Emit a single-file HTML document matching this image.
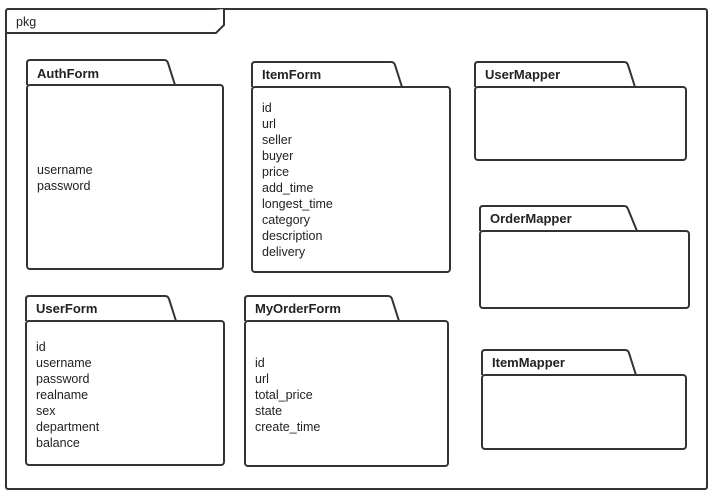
<!DOCTYPE html>
<html><head><meta charset="utf-8"><style>
html,body{margin:0;padding:0;background:#fff;}
svg{display:block;}
text{font-family:"Liberation Sans",sans-serif;font-size:12.5px;fill:#222;}
.t{font-weight:bold;font-size:13px;}
path,rect{fill:#fff;stroke:#333;stroke-width:2;}
</style></head><body>
<svg width="716" height="503" viewBox="0 0 716 503">
<rect x="6" y="9" width="701" height="480" rx="2"/>
<path d="M6 33 H216 L224 25 V9" fill="none"/>
<text x="16" y="26">pkg</text>

<!-- AuthForm -->
<path d="M27 85 V63 Q27 60 30 60 H164 Q167 60 168 63 L175 85"/>
<rect x="27" y="85" width="196" height="184" rx="3"/>
<text class="t" x="37" y="78">AuthForm</text>
<text x="37" y="174">username</text><text x="37" y="190">password</text>

<!-- ItemForm -->
<path d="M252 87 V65 Q252 62 255 62 H391 Q394 62 395 65 L402 87"/>
<rect x="252" y="87" width="198" height="185" rx="3"/>
<text class="t" x="262" y="79">ItemForm</text>
<text x="262" y="112">id</text><text x="262" y="128">url</text><text x="262" y="144">seller</text><text x="262" y="160">buyer</text><text x="262" y="176">price</text><text x="262" y="192">add_time</text><text x="262" y="208">longest_time</text><text x="262" y="224">category</text><text x="262" y="240">description</text><text x="262" y="256">delivery</text>

<!-- UserMapper -->
<path d="M475 87 V65 Q475 62 478 62 H624 Q627 62 628 65 L635 87"/>
<rect x="475" y="87" width="211" height="73" rx="3"/>
<text class="t" x="485" y="79">UserMapper</text>

<!-- OrderMapper -->
<path d="M480 231 V209 Q480 206 483 206 H624 Q627 206 628 209 L637 231"/>
<rect x="480" y="231" width="209" height="77" rx="3"/>
<text class="t" x="490" y="223">OrderMapper</text>

<!-- ItemMapper -->
<path d="M482 375 V353 Q482 350 485 350 H625 Q628 350 629 353 L636 375"/>
<rect x="482" y="375" width="204" height="74" rx="3"/>
<text class="t" x="492" y="367">ItemMapper</text>

<!-- UserForm -->
<path d="M26 321 V299 Q26 296 29 296 H165 Q168 296 169 299 L176 321"/>
<rect x="26" y="321" width="198" height="144" rx="3"/>
<text class="t" x="36" y="313">UserForm</text>
<text x="36" y="351">id</text><text x="36" y="367">username</text><text x="36" y="383">password</text><text x="36" y="399">realname</text><text x="36" y="415">sex</text><text x="36" y="431">department</text><text x="36" y="447">balance</text>

<!-- MyOrderForm -->
<path d="M245 321 V299 Q245 296 248 296 H388 Q391 296 392 299 L399 321"/>
<rect x="245" y="321" width="203" height="145" rx="3"/>
<text class="t" x="255" y="313">MyOrderForm</text>
<text x="255" y="367">id</text><text x="255" y="383">url</text><text x="255" y="399">total_price</text><text x="255" y="415">state</text><text x="255" y="431">create_time</text>
</svg>
</body></html>
